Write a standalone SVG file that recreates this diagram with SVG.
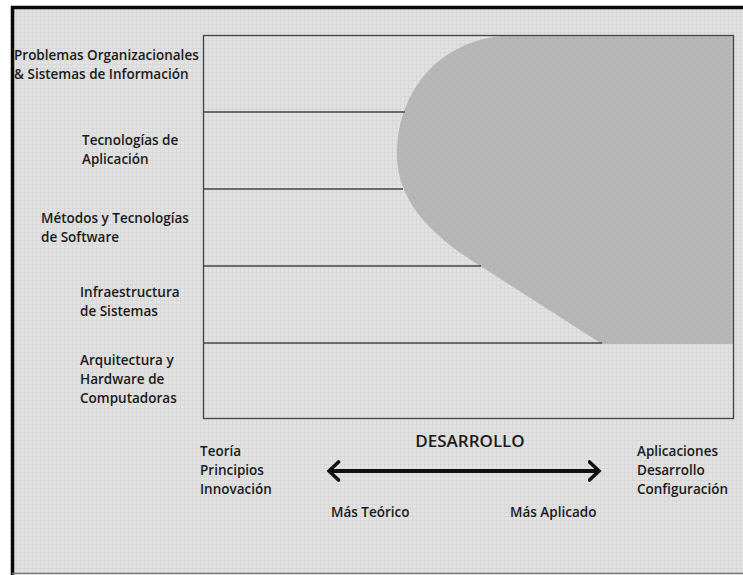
<svg xmlns="http://www.w3.org/2000/svg" width="743" height="575" viewBox="0 0 743 575">
<defs>
<pattern id="grid" width="4" height="4" patternUnits="userSpaceOnUse">
<rect width="4" height="4" fill="#e2e2e2"/>
<path d="M0 0.5H4M0.5 0V4" stroke="#d8d8d8" stroke-width="1"/>
</pattern>
<pattern id="dots" width="8" height="8" patternUnits="userSpaceOnUse">
<rect width="8" height="8" fill="#b6b6b6"/>
<circle cx="2" cy="2" r="0.6" fill="#a8a8a8"/>
<circle cx="6" cy="6" r="0.6" fill="#a8a8a8"/>
</pattern>
<marker id="chev" viewBox="0 0 14 22" refX="11.5" refY="11" markerWidth="14" markerHeight="22" markerUnits="userSpaceOnUse" orient="auto-start-reverse">
<path d="M2 2 L11.5 11 L2 20" fill="none" stroke="#111" stroke-width="3.6" stroke-linejoin="miter" stroke-linecap="round"/>
</marker>
</defs>
<style>
text{font-family:"Open Sans","Liberation Sans",sans-serif;font-weight:600;font-size:13.5px;fill:#1a1a1a}
.big{font-size:17px}
.row{stroke:#444;stroke-width:1.3;fill:none}
</style>
<rect width="743" height="575" fill="#ffffff"/>
<rect x="12" y="7" width="740" height="566" fill="url(#grid)"/>
<g id="frame">
<path d="M12.5 575V7.5H743" fill="none" stroke="#0a0a0a" stroke-width="3.5"/>
<path d="M12 573.5H743" fill="none" stroke="#777" stroke-width="1.5"/>
</g>
<g id="chart">
<path id="region" d="M513 35.5 L733 35.5 L733 344 L602 344 L482 267 C438 240 397 205 397 155 C397 85 447 35.5 513 35.5 Z" fill="url(#dots)"/>
<rect x="203.5" y="35.5" width="530" height="383" class="row"/>
<line x1="203.5" y1="112" x2="405" y2="112" class="row"/>
<line x1="203.5" y1="189" x2="403" y2="189" class="row"/>
<line x1="203.5" y1="266" x2="481" y2="266" class="row"/>
<line x1="203.5" y1="343" x2="602" y2="343" class="row"/>
</g>
<g id="n1"><text x="14" y="60">Problemas Organizacionales</text><text x="14" y="79">&amp; Sistemas de Información</text></g>
<g id="n2"><text x="82" y="145">Tecnologías de</text><text x="82" y="164">Aplicación</text></g>
<g id="n3"><text x="41" y="223">Métodos y Tecnologías</text><text x="41" y="242">de Software</text></g>
<g id="n4"><text x="80" y="297">Infraestructura</text><text x="80" y="316">de Sistemas</text></g>
<g id="n5"><text x="80" y="365">Arquitectura y</text><text x="80" y="384">Hardware de</text><text x="80" y="403">Computadoras</text></g>
<g id="axis">
<text class="big" x="470" y="447" text-anchor="middle">DESARROLLO</text>
<g id="left-end"><text x="200" y="456">Teoría</text><text x="200" y="475">Principios</text><text x="200" y="494">Innovación</text></g>
<g id="right-end"><text x="637" y="456">Aplicaciones</text><text x="637" y="475">Desarrollo</text><text x="637" y="494">Configuración</text></g>
<text x="331" y="517">Más Teórico</text>
<text x="510" y="517">Más Aplicado</text>
</g>
<g id="connectors">
<line x1="329" y1="471" x2="599" y2="471" stroke="#111" stroke-width="4" marker-start="url(#chev)" marker-end="url(#chev)"/>
</g>
</svg>
